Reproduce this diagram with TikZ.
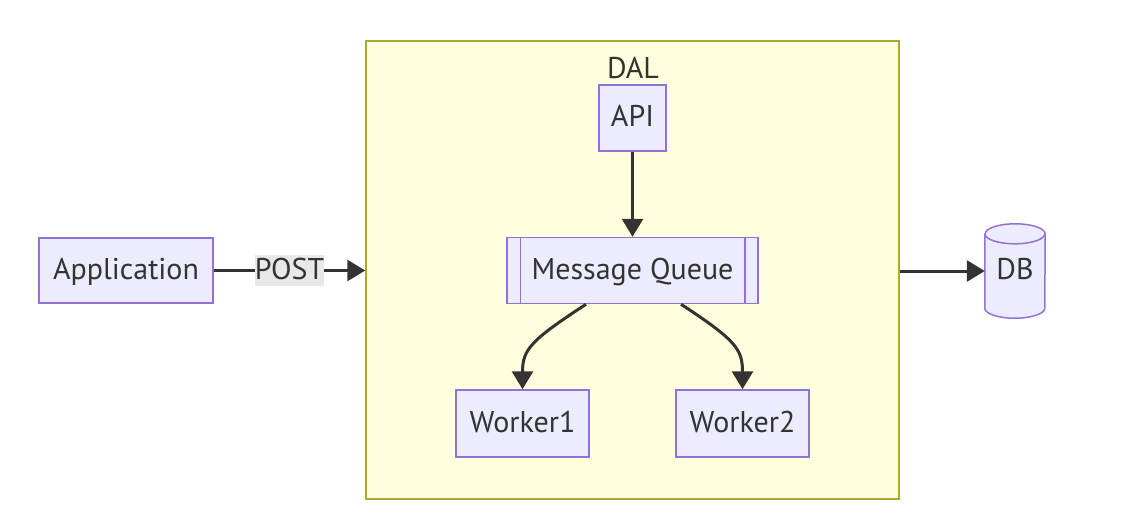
\documentclass[tikz,border=0pt]{standalone}
\usepackage{fontspec}
\setmainfont{PT Sans}
\usetikzlibrary{arrows.meta}
\definecolor{nodefill}{HTML}{ECECFF}
\definecolor{nodeline}{HTML}{9370DB}
\definecolor{txt}{HTML}{333333}
\definecolor{clusterfill}{HTML}{FFFFDE}
\definecolor{clusterline}{HTML}{AAAA33}
\definecolor{lblbg}{HTML}{E8E8E8}
\tikzset{
  lbl/.style={text=txt, font=\fontsize{30}{34}\selectfont, text height=21pt, text depth=4pt},
  box/.style={draw=nodeline, fill=nodefill, line width=1.5pt, lbl, inner sep=0pt, anchor=center},
  conn/.style={draw=txt, line width=3pt, -{Triangle[length=18pt,width=21pt]}},
}
\begin{document}
\begin{tikzpicture}[x=1pt,y=-1pt]
\useasboundingbox (0,0) rectangle (1124,522);
% cluster
\node[draw=clusterline, fill=clusterfill, line width=1.5pt, minimum width=533pt, minimum height=458pt, inner sep=0pt] (dal) at (632.5,270) {};
\node[lbl, anchor=center] (dallbl) at (633,70) {DAL};
% nodes
\node[box, minimum width=174pt, minimum height=65pt] (app) at (126,270.5) {Application};
\node[box, minimum width=67pt, minimum height=66pt] (api) at (632.5,118) {API};
\node[box, minimum width=251pt, minimum height=66pt] (mq) at (632.5,270.5) {Message Queue};
\draw[draw=nodeline, line width=1.5pt] ([xshift=14pt]mq.north west) -- ([xshift=14pt]mq.south west)
  ([xshift=-14pt]mq.north east) -- ([xshift=-14pt]mq.south east);
\node[box, minimum width=133pt, minimum height=67pt] (w1) at (522.5,423.5) {Worker1};
\node[box, minimum width=133pt, minimum height=67pt] (w2) at (742.5,423.5) {Worker2};
% DB cylinder
\node[inner sep=0pt, minimum width=60pt, minimum height=94pt] (db) at (1015,271) {};
\draw[draw=nodeline, fill=nodefill, line width=1.5pt]
  ([yshift=-10pt]db.north west) -- ([yshift=10pt]db.south west)
  arc[start angle=180, end angle=360, x radius=30pt, y radius=10pt]
  -- ([yshift=-10pt]db.north east)
  arc[start angle=0, end angle=180, x radius=30pt, y radius=10pt];
\draw[draw=nodeline, line width=1.5pt] ([yshift=-10pt]db.north west)
  arc[start angle=180, end angle=360, x radius=30pt, y radius=10pt];
\node[lbl, inner sep=0pt] (dbtxt) at (db.center) {DB};
% connectors
\draw[conn] (app.east) -- node[fill=lblbg, lbl, inner sep=0pt, minimum width=66pt, minimum height=31pt] (post) {POST} (dal.west |- app.east);
\draw[conn] (api.south) -- (mq.north);
\draw[conn] ([xshift=-46.5pt]mq.south) .. controls +(-55,36) and +(0,-40) .. (w1.north);
\draw[conn] ([xshift=48.5pt]mq.south) .. controls +(55,36) and +(0,-40) .. (w2.north);
\draw[conn] (dal.east |- db.west) -- (db.west);
\end{tikzpicture}
\end{document}
